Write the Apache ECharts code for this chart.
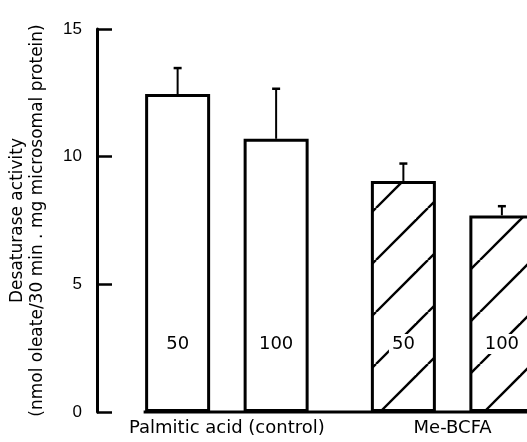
<!DOCTYPE html>
<html>
<head>
<meta charset="utf-8">
<script src="https://cdn.jsdelivr.net/npm/echarts@6/dist/echarts.min.js"></script>
<style>html,body{margin:0;padding:0;background:#fff}#chart{width:527px;height:442px}</style>
</head>
<body>
<div id="chart"></div>
<script>
// ---- data ----
const categories = ['Palmitic acid (control)', 'Me-BCFA'];
const concentrations = ['50', '100'];
const activity50 = [12.45, 9.05];
const activity100 = [10.7, 7.7];
const sd50 = [1.02, 0.68];
const sd100 = [1.96, 0.36];
const yTicks = [0, 5, 10, 15];

// ---- layout constants ----
const BAR_W = 65;
const GAP = 33.5;
const OFF = (BAR_W + GAP) / 2;

function hatchPattern() {
  const s = 52;
  const c = document.createElement('canvas');
  c.width = s; c.height = s;
  const g = c.getContext('2d');
  g.fillStyle = '#fff';
  g.fillRect(0, 0, s, s);
  g.strokeStyle = '#000';
  g.lineWidth = 2.4;
  g.lineCap = 'butt';
  [12 - s, 12, 12 + s, 12 + 2 * s].forEach(k => {
    g.beginPath();
    g.moveTo(k, 0);
    g.lineTo(k - s, s);
    g.stroke();
  });
  return { image: c, repeat: 'repeat' };
}
const hatch = hatchPattern();

const chart = echarts.init(document.getElementById('chart'), null, { renderer: 'canvas' });

function barData(vals) {
  return vals.map((v, i) => ({
    value: v,
    itemStyle: i === 1 ? { color: hatch } : { color: '#fff' }
  }));
}

const barLabel = {
  show: true,
  position: 'insideBottom',
  distance: 58,
  formatter: '{a}',
  fontFamily: 'DejaVu Sans',
  fontSize: 18,
  color: '#000',
  backgroundColor: '#fff',
  padding: [1, 3]
};

const errData = [];
categories.forEach((c, i) => {
  errData.push([i, activity50[i], sd50[i], 0]);
  errData.push([i, activity100[i], sd100[i], 1]);
});

chart.setOption({
  animation: false,
  backgroundColor: '#fff',
  grid: { left: 114, top: 29, width: 451.5, height: 383, outerBoundsMode: 'none', containLabel: false },
  xAxis: {
    type: 'category',
    data: categories,
    axisLine: { show: false },
    axisTick: { show: false },
    axisLabel: {
      interval: 0,
      margin: 7,
      fontFamily: 'DejaVu Sans',
      fontSize: 18,
      color: '#000'
    }
  },
  yAxis: {
    type: 'value',
    min: 0,
    max: 15,
    interval: 5,
    offset: 17,
    name: 'Desaturase activity\n(nmol oleate/30 min . mg microsomal protein)',
    nameLocation: 'middle',
    nameRotate: 90,
    nameGap: 49,
    nameTextStyle: {
      fontFamily: 'DejaVu Sans',
      fontSize: 17,
      lineHeight: 20,
      color: '#000'
    },
    axisLine: { show: true, lineStyle: { color: '#000', width: 3 } },
    axisTick: { show: true, inside: true, length: 15, lineStyle: { color: '#000', width: 2.5 } },
    axisLabel: {
      margin: 15,
      fontFamily: 'Liberation Sans',
      fontSize: 17,
      color: '#000',
      formatter: v => (yTicks.indexOf(v) >= 0 ? String(v) : '')
    },
    splitLine: { show: false }
  },
  series: [
    {
      name: concentrations[0],
      type: 'bar',
      data: barData(activity50),
      barWidth: BAR_W,
      barGap: (GAP / BAR_W * 100) + '%',
      itemStyle: { borderColor: '#000', borderWidth: 3 },
      label: barLabel,
      z: 2
    },
    {
      name: concentrations[1],
      type: 'bar',
      data: barData(activity100),
      barWidth: BAR_W,
      barGap: (GAP / BAR_W * 100) + '%',
      itemStyle: { borderColor: '#000', borderWidth: 3 },
      label: barLabel,
      z: 2
    },
    {
      name: 'error',
      type: 'custom',
      z: 3,
      data: errData,
      encode: { x: 0, y: 1 },
      renderItem: function (params, api) {
        const ci = api.value(0);
        const v = api.value(1);
        const sd = api.value(2);
        const s = api.value(3);
        const base = api.coord([ci, v]);
        const top = api.coord([ci, v + sd]);
        const x = base[0] + (s === 0 ? -OFF : OFF);
        return {
          type: 'group',
          children: [
            { type: 'line', shape: { x1: x, y1: base[1], x2: x, y2: top[1] }, style: { stroke: '#000', lineWidth: 2 } },
            { type: 'line', shape: { x1: x - 4, y1: top[1], x2: x + 4, y2: top[1] }, style: { stroke: '#000', lineWidth: 2.5 } }
          ]
        };
      }
    },
    {
      name: 'baseline',
      type: 'custom',
      z: 4,
      data: [[0, 0]],
      encode: { x: 0, y: 1 },
      renderItem: function (params, api) {
        const p = api.coord([0, 0]);
        const cs = params.coordSys;
        return {
          type: 'line',
          shape: { x1: p[0] - OFF - BAR_W / 2 - 1.5, y1: p[1], x2: cs.x + cs.width, y2: p[1] },
          style: { stroke: '#000', lineWidth: 3 }
        };
      }
    }
  ]
});
</script>
</body>
</html>
